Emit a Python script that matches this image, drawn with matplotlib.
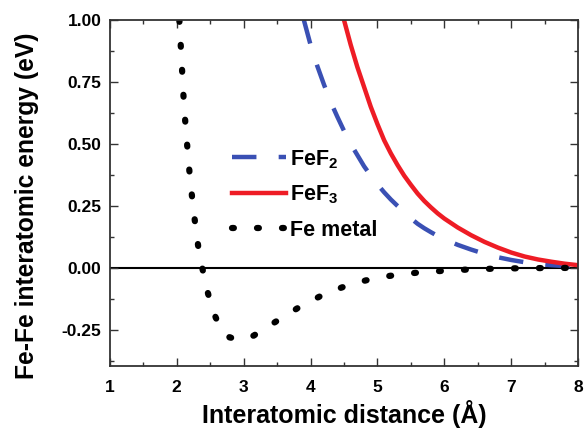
import matplotlib
matplotlib.use("Agg")
import matplotlib.pyplot as plt
from matplotlib.ticker import MultipleLocator

plt.rcParams['font.family'] = ['Liberation Sans', 'DejaVu Sans']
plt.rcParams['font.weight'] = 'bold'
plt.rcParams['mathtext.fontset'] = 'custom'
plt.rcParams['mathtext.rm'] = 'Liberation Sans:bold'
plt.rcParams['mathtext.bf'] = 'Liberation Sans:bold'

# Data
fe_x = [2.04, 2.05, 2.07, 2.09, 2.11, 2.14, 2.17, 2.20, 2.24, 2.28, 2.32, 2.37,
        2.45, 2.55, 2.65, 2.79, 2.95, 3.15, 3.52, 3.88, 4.25, 4.61, 4.98, 5.34,
        5.71, 6.23, 6.6, 6.95, 7.3, 7.68, 8.0]
fe_y = [1.0, 0.95, 0.85, 0.75, 0.65, 0.55, 0.45, 0.36, 0.26, 0.17, 0.09, 0.016,
        -0.086, -0.18, -0.24, -0.28, -0.29, -0.273, -0.21, -0.15, -0.10, -0.065,
        -0.04, -0.026, -0.016, -0.008, -0.004, -0.002, -0.001, 0.0, 0.0]

fef2_x = [3.9, 4.0, 4.1, 4.2, 4.3, 4.4, 4.5, 4.6, 4.7, 4.8, 4.9, 5.0, 5.1, 5.2,
          5.3, 5.4, 5.5, 5.6, 5.7, 5.8, 5.9, 6.0, 6.2, 6.4, 6.6, 6.8, 7.0, 7.2,
          7.4, 7.6, 7.8, 8.0]
fef2_y = [1.0, 0.9, 0.815, 0.74, 0.67, 0.61, 0.553, 0.50, 0.455, 0.41, 0.372,
          0.337, 0.305, 0.276, 0.25, 0.226, 0.20, 0.178, 0.16, 0.144, 0.129,
          0.116, 0.093, 0.074, 0.057, 0.043, 0.032, 0.023, 0.016, 0.011, 0.008,
          0.005]

fef3_x = [4.5, 4.6, 4.7, 4.8, 4.9, 5.0, 5.1, 5.2, 5.3, 5.4, 5.5, 5.6, 5.7, 5.8,
          5.9, 6.0, 6.2, 6.4, 6.6, 6.8, 7.0, 7.2, 7.4, 7.6, 7.8, 8.0]
fef3_y = [1.0, 0.9, 0.81, 0.73, 0.65, 0.58, 0.515, 0.462, 0.415, 0.372, 0.335,
          0.30, 0.27, 0.244, 0.22, 0.199, 0.163, 0.132, 0.105, 0.082, 0.062,
          0.046, 0.034, 0.025, 0.017, 0.011]

labels = ['FeF$_\\mathbf{2}$', 'FeF$_\\mathbf{3}$', 'Fe metal']
xticks = [1, 2, 3, 4, 5, 6, 7, 8]
yticks = [-0.25, 0.0, 0.25, 0.5, 0.75, 1.0]

fig = plt.figure(figsize=(5.84, 4.33), dpi=100)
ax = fig.add_axes([0.188, 0.155, 0.802, 0.799])

ax.axhline(0, color='black', lw=1.5, zorder=1)

ax.plot(fef2_x, fef2_y, color='#3a50b4', lw=3.2, linestyle=(0, (5.5, 5)),
        label=labels[0], solid_capstyle='butt', dash_capstyle='butt')
ax.plot(fef3_x, fef3_y, color='#ee1c25', lw=3.2, label=labels[1])
ax.plot(fe_x, fe_y, color='black', lw=4.5, linestyle=(0, (0.3, 3.7)),
        dash_capstyle='round', label=labels[2])

ax.set_xlim(1, 8)
ax.set_ylim(-0.395, 1.0)
ax.set_xticks(xticks)
ax.set_yticks(yticks)
ax.set_yticklabels([f'{v:.2f}' for v in yticks])
ax.xaxis.set_minor_locator(MultipleLocator(0.5))
ax.yaxis.set_minor_locator(MultipleLocator(0.125))
ax.tick_params(which='both', direction='in', top=True, right=True,
               labelsize=12.5, width=1.0, color='#333333')
ax.tick_params(which='major', length=6, pad=6)
ax.tick_params(axis='x', which='major', pad=10)
ax.tick_params(which='minor', length=3)
for lab in ax.get_xticklabels() + ax.get_yticklabels():
    lab.set_fontweight('bold')
for sp in ax.spines.values():
    sp.set_color('#333333')
    sp.set_linewidth(1.3)

ax.set_xlabel('Interatomic distance (Å)', fontsize=18, fontweight='bold', labelpad=4)
ax.set_ylabel('Fe-Fe interatomic energy (eV)', fontsize=17.7, fontweight='bold')
ax.yaxis.set_label_coords(-0.152, 0.462)

leg = ax.legend(loc='upper left', bbox_to_anchor=(0.26, 0.63), frameon=False,
                fontsize=15.5, handlelength=2.55, handletextpad=0.15,
                labelspacing=0.62, borderpad=0, borderaxespad=0)

fig.savefig('out.png', dpi=100, facecolor='white')
